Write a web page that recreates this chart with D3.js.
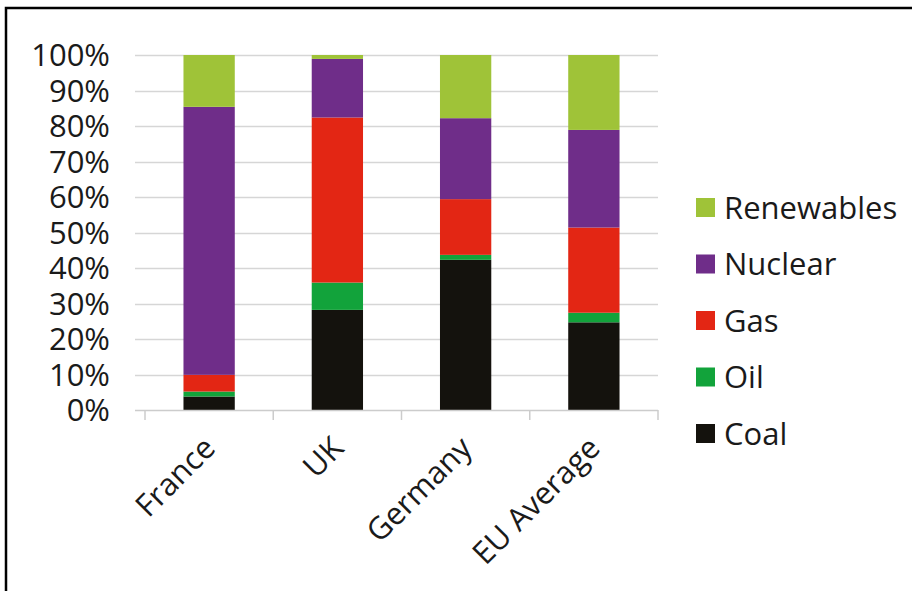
<!DOCTYPE html>
<html>
<head>
<meta charset="utf-8">
<script src="https://cdn.jsdelivr.net/npm/d3@7"></script>
<style>
	html, body { margin: 0; padding: 0; background: #fff; }
	svg text { font-family: "Open Sans", sans-serif; fill: #1a1a1a; }
</style>
</head>
<body>
<svg id="chart"></svg>
<script>
// share of electricity generation, percent
const countries = ["France", "UK", "Germany", "EU Average"];
const coal = [3.8, 28.2, 42.3, 24.7];
const oil = [1.4, 7.7, 1.4, 2.7];
const gas = [4.7, 46.5, 15.7, 24.0];
const nuclear = [75.5, 16.5, 22.8, 27.5];
const renewables = [14.6, 1.1, 17.8, 21.1];
const yTicks = [0, 0.1, 0.2, 0.3, 0.4, 0.5, 0.6, 0.7, 0.8, 0.9, 1];

const sources = ["Coal", "Oil", "Gas", "Nuclear", "Renewables"];
const colors = {
	Coal: "#14120d",
	Oil: "#12a33b",
	Gas: "#e32614",
	Nuclear: "#6f2d89",
	Renewables: "#9fc338"
};

const width = 912;
const height = 591;

const rows = countries.map((c, i) => ({
	country: c,
	Coal: coal[i],
	Oil: oil[i],
	Gas: gas[i],
	Nuclear: nuclear[i],
	Renewables: renewables[i]
}));

const series = d3.stack()
	.keys(sources)
	.offset(d3.stackOffsetExpand)(rows);

const x = d3.scaleBand()
	.domain(countries)
	.range([145, 658])
	.paddingInner(0.6)
	.paddingOuter(0.3);

const y = d3.scaleLinear()
	.domain([0, 1])
	.range([410, 55]);

const svg = d3.select("#chart")
	.attr("width", width)
	.attr("height", height);

// frame (only top and left show)
svg.append("path")
	.attr("d", `M 6,${height} L 6,8 L ${width},8`)
	.attr("fill", "none")
	.attr("stroke", "#000")
	.attr("stroke-width", 2.5);

// horizontal gridlines
svg.append("g")
	.selectAll("line")
	.data(yTicks.slice(1))
	.enter()
	.append("line")
	.attr("x1", 135)
	.attr("x2", 658)
	.attr("y1", (d) => Math.round(y(d)) + 0.5)
	.attr("y2", (d) => Math.round(y(d)) + 0.5)
	.attr("stroke", "#d6d6d6")
	.attr("stroke-width", 1.5);

// y labels
svg.append("g")
	.selectAll("text")
	.data(yTicks)
	.enter()
	.append("text")
	.attr("x", 110)
	.attr("y", (d) => y(d))
	.attr("dy", "0.36em")
	.attr("text-anchor", "end")
	.attr("font-size", 31)
	.text(d3.format(".0%"));

// bars
svg.append("g")
	.selectAll("g")
	.data(series)
	.enter()
	.append("g")
	.attr("fill", (d) => colors[d.key])
	.selectAll("rect")
	.data((d) => d)
	.enter()
	.append("rect")
	.attr("x", (d) => x(d.data.country))
	.attr("width", x.bandwidth())
	.attr("y", (d) => y(d[1]))
	.attr("height", (d) => y(d[0]) - y(d[1]));

// x axis line and ticks
const step = x.step();
const tickXs = d3.range(countries.length + 1).map((i) => 145 + i * step);
svg.append("line")
	.attr("x1", 135)
	.attr("x2", 658)
	.attr("y1", 410.5)
	.attr("y2", 410.5)
	.attr("stroke", "#cccccc")
	.attr("stroke-width", 1.5);
svg.append("g")
	.selectAll("line")
	.data(tickXs)
	.enter()
	.append("line")
	.attr("x1", (d) => d)
	.attr("x2", (d) => d)
	.attr("y1", 410)
	.attr("y2", 420)
	.attr("stroke", "#cccccc")
	.attr("stroke-width", 1.5);

// rotated category labels
svg.append("g")
	.selectAll("text")
	.data(countries)
	.enter()
	.append("text")
	.attr("transform", (d) => `translate(${x(d) + x.bandwidth() / 2 + 8}, 450) rotate(-45)`)
	.attr("text-anchor", "end")
	.attr("font-size", 31)
	.text((d) => d);

// legend, Renewables on top
const legend = svg.append("g")
	.selectAll("g")
	.data([...sources].reverse())
	.enter()
	.append("g")
	.attr("transform", (d, i) => `translate(696, ${207.5 + i * 56.5})`);
legend.append("rect")
	.attr("x", 0)
	.attr("y", -9.5)
	.attr("width", 19)
	.attr("height", 19)
	.attr("fill", (d) => colors[d]);
legend.append("text")
	.attr("x", 28)
	.attr("y", 0)
	.attr("dy", "0.36em")
	.attr("font-size", 31)
	.text((d) => d);
</script>
</body>
</html>
